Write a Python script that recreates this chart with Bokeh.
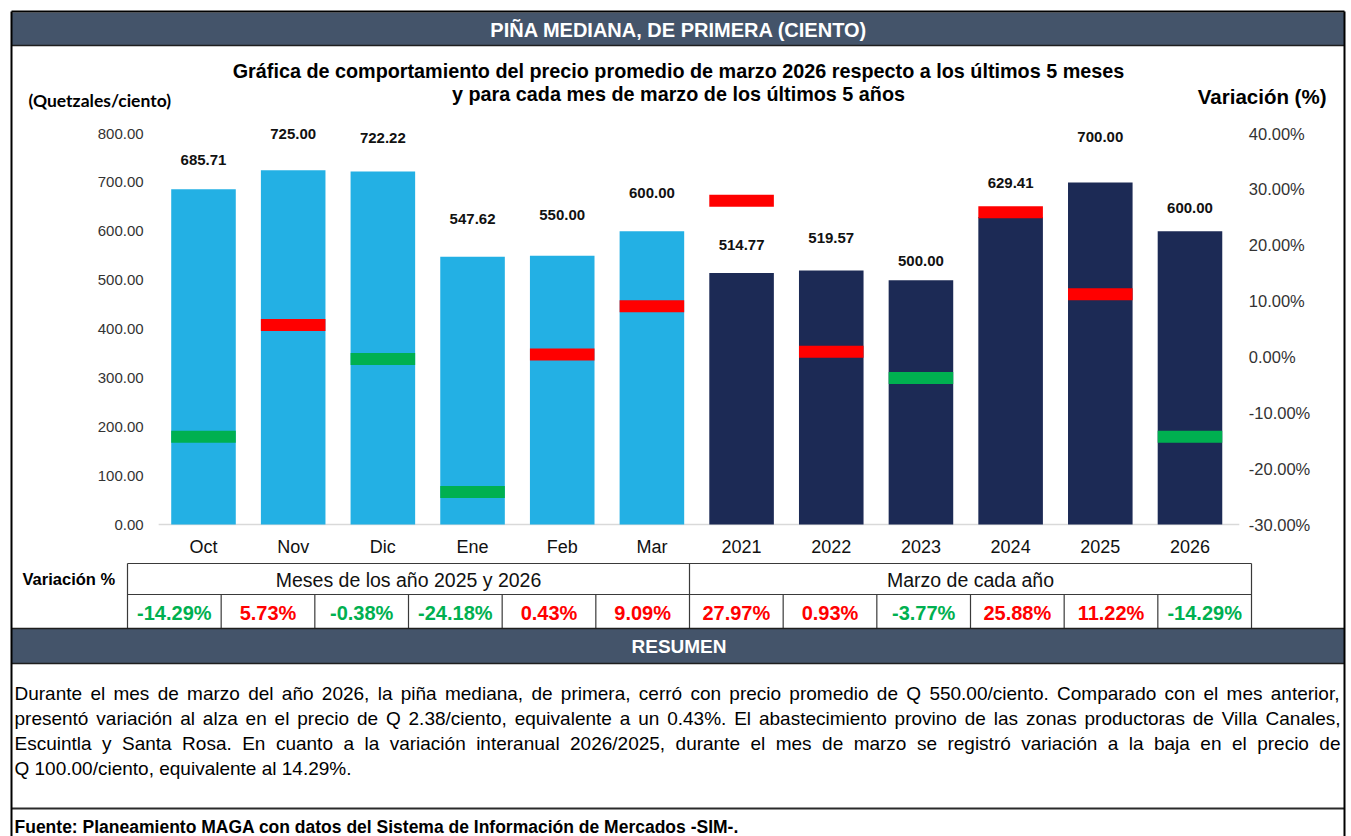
from bokeh.plotting import figure
from bokeh.models import Range1d, LinearAxis, FixedTicker, PrintfTickFormatter, ColumnDataSource
from bokeh.embed import file_html
from bokeh.resources import INLINE
from bokeh.core.properties import value

# ---------------- data ----------------
categories = ["Oct", "Nov", "Dic", "Ene", "Feb", "Mar",
              "2021", "2022", "2023", "2024", "2025", "2026"]
prices = [685.71, 725.00, 722.22, 547.62, 550.00, 600.00,
          514.77, 519.57, 500.00, 629.41, 700.00, 600.00]
variation = [-14.29, 5.73, -0.38, -24.18, 0.43, 9.09,
             27.97, 0.93, -3.77, 25.88, 11.22, -14.29]
series_group = ["mes"] * 6 + ["anio"] * 6
left_ticks = [0, 100, 200, 300, 400, 500, 600, 700, 800]
right_ticks = [-30, -20, -10, 0, 10, 20, 30, 40]
table_groups = ["Meses de los año 2025 y 2026", "Marzo de cada año"]

header_text = "PIÑA MEDIANA, DE PRIMERA (CIENTO)"
title_lines = ["Gráfica de comportamiento del precio promedio de marzo 2026 respecto a los últimos 5 meses",
               "y para cada mes de marzo de los últimos 5 años"]
summary_lines = [
    "Durante el mes de marzo del año 2026, la piña mediana, de primera, cerró con precio promedio de Q 550.00/ciento. Comparado con el mes anterior,",
    "presentó variación al alza en el precio de Q 2.38/ciento, equivalente a un 0.43%. El abastecimiento provino de las zonas productoras de Villa Canales,",
    "Escuintla y Santa Rosa. En cuanto a la variación interanual 2026/2025, durante el mes de marzo se registró variación a la baja en el precio de",
    "Q 100.00/ciento, equivalente al 14.29%.",
]
footer_text = "Fuente: Planeamiento MAGA con datos del  Sistema de Información de Mercados -SIM-."

# ---------------- styles / layout ----------------
W, H = 1351, 836
FONT = "Liberation Sans"
BAND = "#44546A"
LIGHT = "#23B0E4"
NAVY = "#1C2A55"
RED = "#FF0000"
GREEN = "#00B050"
label_lift_px = [29, 36, 34, 38, 41, 38, 28, 33, 19, 34, 45, 23]

CAT0_X = 203.0      # canvas x of first category centre
CAT_STEP = 89.68    # px between categories
ZERO_Y = 524.0      # canvas y of value 0
TOP_Y = 133.0       # canvas y of value 800 / 40%
k = (ZERO_Y - TOP_Y) / 800.0
kp = (ZERO_Y - TOP_Y) / 70.0

p = figure(width=W, height=H, output_backend="svg", toolbar_location=None,
           x_axis_type=None, y_axis_type=None, min_border=0,
           x_range=Range1d(-CAT0_X / CAT_STEP, (W - CAT0_X) / CAT_STEP),
           y_range=Range1d(-(H - ZERO_Y) / k, ZERO_Y / k))
p.extra_x_ranges = {"px": Range1d(0, W)}
p.extra_y_ranges = {"pct": Range1d(-30 - (H - ZERO_Y) / kp, -30 + ZERO_Y / kp),
                    "py": Range1d(H, 0)}
p.outline_line_color = None
p.background_fill_color = "white"
p.border_fill_color = "white"

PX = dict(x_range_name="px", y_range_name="py")


def box(l, r, t, b, color):
    p.quad(left=[l], right=[r], top=[t], bottom=[b], fill_color=color, line_color=None, **PX)


def seg(x0, y0, x1, y1, color="#000000", w=1.0):
    p.segment(x0=[x0], y0=[y0], x1=[x1], y1=[y1], line_color=color, line_width=w, **PX)


def txt(x, y, s, size, bold=False, color="#000000", align="left", font=FONT):
    p.text(x=x if isinstance(x, list) else [x], y=y if isinstance(y, list) else [y],
           text=s if isinstance(s, list) else [s],
           text_font=value(font), text_font_size=f"{size}px",
           text_font_style="bold" if bold else "normal", text_color=color,
           text_align=align, text_baseline="middle", **PX)


# Arial / Liberation Sans advance widths (1/1000 em)
AW = {' ': 278, '.': 278, ',': 278, '/': 278, '%': 889, '-': 333, '(': 333, ')': 333, ':': 278}
for c in "0123456789":
    AW[c] = 556
AW.update(dict(zip("abcdefghijklmnopqrstuvwxyz",
                   [556, 556, 500, 556, 556, 278, 556, 556, 222, 222, 500, 222, 833,
                    556, 556, 556, 556, 333, 500, 278, 556, 500, 722, 500, 500, 500])))
AW.update(dict(zip("ABCDEFGHIJKLMNOPQRSTUVWXYZ",
                   [667, 667, 722, 722, 667, 611, 778, 722, 278, 500, 667, 556, 833,
                    722, 778, 667, 778, 722, 667, 611, 722, 667, 944, 667, 667, 611])))
AW.update({'á': 556, 'é': 556, 'í': 278, 'ó': 556, 'ú': 556, 'ñ': 556})


def tw(s, size):
    return sum(AW.get(c, 556) for c in s) / 1000.0 * size


# ---------------- frame / bands ----------------
L_EDGE, R_EDGE = 11, 1344
box(L_EDGE, R_EDGE, 12, 45, BAND)                      # header band
seg(L_EDGE, 45, R_EDGE, 45, "#1e1e1e", 1.5)
txt((L_EDGE + R_EDGE) / 2 + 1, 29, header_text, 20, True, "white", "center")

txt(678, 70, title_lines[0], 19.8, True, "#000000", "center")
txt(678, 93, title_lines[1], 19.8, True, "#000000", "center")
txt(28, 100, "(Quetzales/ciento)", 17.5, True, "#000000", "left", "Lato")
txt(1326, 96, "Variación (%)", 20.5, True, "#000000", "right")

# ---------------- chart ----------------
idx = list(range(len(categories)))
src = ColumnDataSource(dict(
    x=idx, top=prices, var=variation,
    color=[LIGHT if g == "mes" else NAVY for g in series_group],
    mcolor=[RED if v > 0 else GREEN for v in variation],
    label=[f"{v:.2f}" for v in prices],
    lift=[-d for d in label_lift_px],
))
p.segment(x0=[-0.5], y0=[0], x1=[len(categories) - 0.45], y1=[0], line_color="#D9D9D9", line_width=1.5)
p.vbar(x="x", top="top", bottom=0, width=0.72, fill_color="color", line_color=None, source=src)
p.rect(x="x", y="var", width=0.72, height=12, height_units="screen", fill_color="mcolor",
       line_color=None, y_range_name="pct", source=src)
p.text(x="x", y="top", text="label", y_offset="lift", text_align="center", text_baseline="middle",
       text_font=value(FONT), text_font_style="bold", text_font_size="15px", text_color="#111111",
       source=src)

axis_style = dict(axis_line_color=None, major_tick_line_color=None, minor_tick_line_color=None,
                  major_tick_out=0, major_tick_in=0, minor_tick_out=0, minor_tick_in=0,
                  major_label_text_font=FONT)
left_axis = LinearAxis(fixed_location=-0.5, ticker=FixedTicker(ticks=left_ticks),
                       formatter=PrintfTickFormatter(format="%.2f"), major_label_standoff=15,
                       major_label_text_font_size="15px", major_label_text_color="#333333", **axis_style)
p.add_layout(left_axis, "left")
right_axis = LinearAxis(y_range_name="pct", fixed_location=len(categories) - 0.5,
                        ticker=FixedTicker(ticks=right_ticks),
                        formatter=PrintfTickFormatter(format="%.2f%%"), major_label_standoff=14,
                        major_label_text_font_size="16.5px", major_label_text_color="#333333", **axis_style)
p.add_layout(right_axis, "right")
bottom_axis = LinearAxis(fixed_location=0, ticker=FixedTicker(ticks=idx),
                         major_label_overrides={i: c for i, c in zip(idx, categories)},
                         major_label_standoff=12, major_label_text_font_size="18px",
                         major_label_text_color="#111111", **axis_style)
p.add_layout(bottom_axis, "below")

# ---------------- table ----------------
T_L, T_R, T_TOP, T_MID, T_BOT = 127, 1251, 563, 594, 628
cw = (T_R - T_L) / len(categories)
tcol = "#3a3a3a"
seg(T_L, T_TOP, T_R, T_TOP, tcol, 1.2)
seg(T_L, T_MID, T_R, T_MID, tcol, 1.2)
for i in range(len(categories) + 1):
    xx = T_L + i * cw
    top = T_TOP if i in (0, 6, len(categories)) else T_MID
    seg(xx, top, xx, T_BOT, tcol, 1.2)
txt(22, (T_TOP + T_MID) / 2, "Variación %", 16.5, True, "#000000", "left")
for g, name in enumerate(table_groups):
    txt(T_L + (g * 6 + 3) * cw, (T_TOP + T_MID) / 2 + 1, name, 19.5, False, "#111111", "center")
val_colors = [RED if v > 0 else GREEN for v in variation]
for i in idx:
    txt(T_L + (i + 0.5) * cw, (T_MID + T_BOT) / 2 + 1, f"{variation[i]:.2f}%", 20, True,
        val_colors[i], "center")

# ---------------- resumen ----------------
box(L_EDGE, R_EDGE, T_BOT, 663, BAND)
seg(L_EDGE, T_BOT, R_EDGE, T_BOT, "#1e1e1e", 1.5)
seg(L_EDGE, 663, R_EDGE, 663, "#1e1e1e", 1.5)
txt((L_EDGE + R_EDGE) / 2 + 1, 646, "RESUMEN", 19, True, "white", "center")

S_SIZE = 19
S_X0, S_X1 = 14, 1340
for li, line in enumerate(summary_lines):
    yy = 693 + li * 25
    if li < len(summary_lines) - 1:
        words = line.split(" ")
        ws = [tw(w, S_SIZE) for w in words]
        gap = (S_X1 - S_X0 - sum(ws)) / (len(words) - 1)
        xs, xcur = [], S_X0
        for w in ws:
            xs.append(xcur)
            xcur += w + gap
        txt(xs, [yy] * len(words), words, S_SIZE, False, "#000000", "left")
    else:
        txt(S_X0, yy, line, S_SIZE, False, "#000000", "left")

seg(L_EDGE, 808, R_EDGE, 808, "#2a2a2a", 2)
txt(14, 826, footer_text, 17.5, True, "#000000", "left")

# outer frame
seg(L_EDGE, 11, L_EDGE, H, "#000000", 2)
seg(R_EDGE, 11, R_EDGE, H, "#000000", 2)
seg(L_EDGE, 11, R_EDGE, 11, "#000000", 2)

open("out.html", "w").write(file_html(p, INLINE))
